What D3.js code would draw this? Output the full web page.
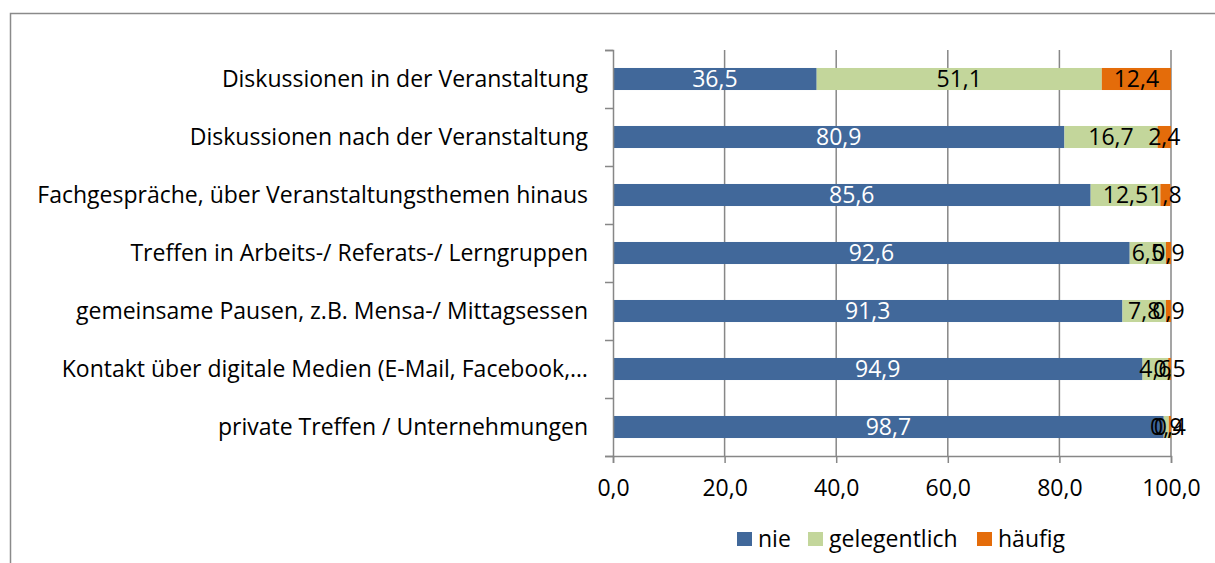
<!DOCTYPE html>
<html><head><meta charset="utf-8">
<script src="https://cdn.jsdelivr.net/npm/d3@7"></script>
<style>
html,body{margin:0;padding:0;background:#fff;}
svg{display:block;font-family:"Open Sans", sans-serif;}
</style></head>
<body>
<svg id="chart" width="1215" height="563"></svg>
<script>
const categories = [
  "Diskussionen in der Veranstaltung",
  "Diskussionen nach der Veranstaltung",
  "Fachgespräche, über Veranstaltungsthemen hinaus",
  "Treffen in Arbeits-/ Referats-/ Lerngruppen",
  "gemeinsame Pausen, z.B. Mensa-/ Mittagsessen",
  "Kontakt über digitale Medien (E-Mail, Facebook,…",
  "private Treffen / Unternehmungen"
];
const nie          = [36.5, 80.9, 85.6, 92.6, 91.3, 94.9, 98.7];
const gelegentlich = [51.1, 16.7, 12.5, 6.5, 7.8, 4.6, 0.9];
const haeufig      = [12.4, 2.4, 1.8, 0.9, 0.9, 0.5, 0.4];
const seriesNames  = ["nie", "gelegentlich", "häufig"];
const xTicks       = [0, 20, 40, 60, 80, 100];

const colors = ["#41689A", "#C3D69B", "#E46C0A"];
const labelColors = ["#ffffff", "#000000", "#000000"];
const FS = 23;

const svg = d3.select("#chart");
const locale = d3.formatLocale({decimal: ",", thousands: ".", grouping: [3], currency: ["", "€"]});
const fmt = locale.format(".1f");

// outer frame
svg.append("rect").attr("x", 10.5).attr("y", 13.5).attr("width", 1300).attr("height", 700)
  .attr("fill", "none").attr("stroke", "#8a8a8a").attr("stroke-width", 1.5);

const pLeft = 613, pRight = 1171, pTop = 50, pBottom = 456;
const x = d3.scaleLinear().domain([0, 100]).range([pLeft, pRight]);
const y = d3.scaleBand().domain(categories).range([pTop, pBottom]).paddingInner(0.62).paddingOuter(0.31);
const yBound = d3.scaleLinear().domain([0, categories.length]).range([pTop, pBottom]);

// gridlines
svg.append("g").selectAll("line").data(xTicks.filter(d => d > 0)).join("line")
  .attr("x1", d => x(d)).attr("x2", d => x(d)).attr("y1", pTop).attr("y2", pBottom)
  .attr("stroke", "#878787").attr("stroke-width", 1.5);

// stacked data
const rows = categories.map((c, i) => ({cat: c, nie: nie[i], gelegentlich: gelegentlich[i], "häufig": haeufig[i]}));
const stack = d3.stack().keys(seriesNames)(rows);

const g = svg.append("g");
stack.forEach((layer, si) => {
  g.append("g").selectAll("rect").data(layer).join("rect")
    .attr("x", d => x(d[0])).attr("width", d => x(d[1]) - x(d[0]))
    .attr("y", d => y(d.data.cat)).attr("height", y.bandwidth())
    .attr("fill", colors[si]);
});

// axes
const yAxis = d3.axisLeft(yBound).tickValues(d3.range(0, categories.length + 1)).tickFormat("").tickSizeOuter(0).tickSize(8);
const ya = svg.append("g").attr("transform", `translate(${pLeft},0)`).call(yAxis);
ya.selectAll("line,path").attr("stroke", "#878787").attr("stroke-width", 1.5);

const xAxis = d3.axisBottom(x).tickValues(xTicks).tickFormat(fmt).tickSizeOuter(0).tickSize(7).tickPadding(17);
const xa = svg.append("g").attr("transform", `translate(0,${pBottom})`).call(xAxis);
xa.selectAll("line,path").attr("stroke", "#878787").attr("stroke-width", 1.5);
xa.selectAll("text").attr("font-size", FS).attr("fill", "#000").attr("font-family", "'Open Sans', sans-serif")
  .attr("dy", "0.71em");

// category labels
svg.append("g").selectAll("text").data(categories).join("text")
  .attr("x", 588).attr("y", d => y(d) + y.bandwidth() / 2 + 8)
  .attr("text-anchor", "end").attr("font-size", FS).attr("fill", "#000").text(d => d);

// value labels
stack.forEach((layer, si) => {
  g.append("g").selectAll("text").data(layer).join("text")
    .attr("x", d => x((d[0] + d[1]) / 2)).attr("y", d => y(d.data.cat) + y.bandwidth() / 2 + 8)
    .attr("text-anchor", "middle").attr("font-size", FS).attr("fill", labelColors[si])
    .text(d => fmt(d[1] - d[0]));
});

// legend
const legendX = [737, 808, 977];
const lg = svg.append("g");
seriesNames.forEach((s, i) => {
  lg.append("rect").attr("x", legendX[i]).attr("y", 532).attr("width", 15).attr("height", 14).attr("fill", colors[i]);
  lg.append("text").attr("x", legendX[i] + 21).attr("y", 547).attr("font-size", FS).attr("fill", "#000").text(s);
});
</script>
</body></html>
